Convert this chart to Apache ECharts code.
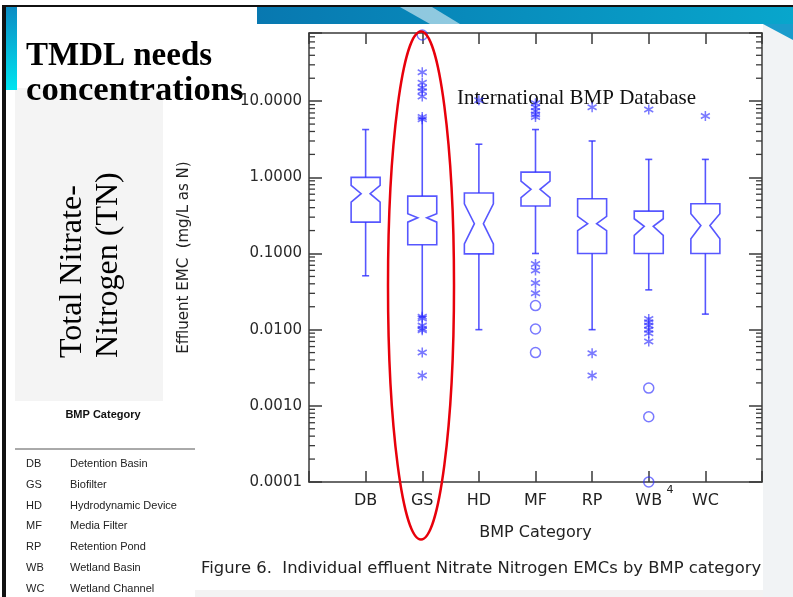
<!DOCTYPE html>
<html><head><meta charset="utf-8">
<script src="https://cdn.jsdelivr.net/npm/echarts@6/dist/echarts.min.js"></script>
<style>html,body{margin:0;padding:0;background:#fff}#c{width:793px;height:597px}</style>
</head><body><div id="c"></div>
<script>
// ---------- data (mg/L as N) ----------
const categories  = ['DB', 'GS', 'HD', 'MF', 'RP', 'WB', 'WC'];
const whiskerLow  = [0.051, 0.0148, 0.010, 0.100, 0.010, 0.0333, 0.016];
const q1          = [0.258, 0.130, 0.099, 0.420, 0.100, 0.100, 0.100];
const notchLow    = [0.473, 0.258, 0.134, 0.540, 0.200, 0.173, 0.156];
const median      = [0.610, 0.295, 0.246, 0.695, 0.246, 0.227, 0.233];
const notchHigh   = [0.785, 0.333, 0.450, 0.890, 0.307, 0.286, 0.333];
const q3          = [1.000, 0.567, 0.622, 1.170, 0.524, 0.360, 0.450];
const whiskerHigh = [4.24, 5.9, 2.72, 4.24, 3.0, 1.72, 1.72];
// outliers drawn as asterisks, per category
const starOutliers = [
  [],
  [24, 17.5, 15, 13.5, 11.5, 6.2, 5.8, 0.0148, 0.014, 0.0113, 0.0103, 0.0098, 0.0050, 0.0025],
  [10.3],
  [9.4, 8.3, 7.4, 6.7, 6.2, 0.073, 0.060, 0.041, 0.030],
  [8.3, 0.0049, 0.0025],
  [7.8, 0.0138, 0.0125, 0.0113, 0.0100, 0.0090, 0.0070],
  [6.4]
];
// outliers drawn as circles, per category
const circleOutliers = [
  [],
  [73.8],
  [],
  [0.0207, 0.0102, 0.0050],
  [],
  [0.00171, 0.00072, 0.0001],
  []
];
const yTickValues = [0.0001, 0.001, 0.01, 0.1, 1, 10];
const yTickLabels = ['0.0001', '0.0010', '0.0100', '0.1000', '1.0000', '10.0000'];
const yAxisMax = 78.5;
const legendCodes = ['DB', 'GS', 'HD', 'MF', 'RP', 'WB', 'WC'];
const legendNames = ['Detention Basin', 'Biofilter', 'Hydrodynamic Device', 'Media Filter',
                     'Retention Pond', 'Wetland Basin', 'Wetland Channel'];

// ---------- build ----------
const L = Math.log10;
const boxData = categories.map((c, i) => [i + 1, L(whiskerLow[i]), L(q1[i]), L(notchLow[i]),
  L(median[i]), L(notchHigh[i]), L(q3[i]), L(whiskerHigh[i])]);
const starData = [];
starOutliers.forEach((arr, i) => arr.forEach(v => starData.push([i + 1, L(v)])));
const circleData = [];
circleOutliers.forEach((arr, i) => arr.forEach(v => circleData.push([i + 1, L(v)])));
const minorTicks = [];
for (let d = -4; d <= 1; d++) for (let k = 2; k <= 9; k++) {
  const v = d + L(k);
  if (v < L(yAxisMax)) minorTicks.push([v]);
}

const BLUE = 'rgba(45,45,255,0.8)';
const AX = '#3a3a3a';
const SANS = '"DejaVu Sans", sans-serif';

function yFmt(v) {
  const i = yTickValues.findIndex(t => Math.abs(L(t) - v) < 1e-6);
  return i >= 0 ? yTickLabels[i] : '';
}
function xFmt(v) {
  return (Number.isInteger(v) && v >= 1 && v <= categories.length) ? categories[v - 1] : '';
}

const chart = echarts.init(document.getElementById('c'), null, { renderer: 'canvas' });

const commonX = {
  type: 'value', min: 0, max: 8, interval: 1,
  axisLine: { onZero: false, lineStyle: { color: AX, width: 1.5 } },
  axisTick: { inside: true, length: 11, lineStyle: { color: AX, width: 1.5 } },
  splitLine: { show: false }
};
const commonY = {
  type: 'value', min: -4, max: L(yAxisMax), interval: 1,
  axisLine: { show: true, onZero: false, lineStyle: { color: AX, width: 1.5 } },
  axisTick: { show: true, inside: true, length: 13, lineStyle: { color: AX, width: 1.5 } },
  splitLine: { show: false }
};

const graphic = [
  // slide decorations
  { type: 'rect', z: -5, shape: { x: 15, y: 88, width: 148, height: 313 }, style: { fill: '#f4f4f4' } },
  { type: 'rect', z: -5, shape: { x: 763, y: 24, width: 30, height: 573 }, style: { fill: '#f1f3f5' } },
  { type: 'rect', z: -5, shape: { x: 195, y: 590, width: 568, height: 7 }, style: { fill: '#f3f3f3' } },
  { type: 'rect', z: -4, shape: { x: 257, y: 7, width: 536, height: 17 },
    style: { fill: new echarts.graphic.LinearGradient(0, 0, 1, 0, [
      { offset: 0, color: '#0878b0' }, { offset: 1, color: '#08a6cc' }]) } },
  { type: 'polygon', z: -3, shape: { points: [[400, 7], [432, 7], [460, 24], [430, 24]] },
    style: { fill: 'rgba(255,255,255,0.55)' } },
  { type: 'polygon', z: -3, shape: { points: [[763, 24], [793, 24], [793, 40]] },
    style: { fill: '#1a9ccc' } },
  { type: 'rect', z: -4, shape: { x: 6, y: 7, width: 11, height: 83 },
    style: { fill: new echarts.graphic.LinearGradient(0, 0, 0, 1, [
      { offset: 0, color: '#0c8cc4' }, { offset: 1, color: '#00e4f0' }]) } },
  { type: 'rect', z: -2, shape: { x: 2, y: 5, width: 4, height: 592 }, style: { fill: '#111' } },
  { type: 'rect', z: -2, shape: { x: 2, y: 5, width: 791, height: 2 }, style: { fill: '#111' } },
  // title
  { type: 'text', x: 26, y: 40, style: { text: 'TMDL needs', font: 'bold 33px "Liberation Serif"', fill: '#000', textVerticalAlign: 'alphabetic' } },
  { type: 'text', x: 26, y: 75, scaleX: 1.05, style: { text: 'concentrations', font: 'bold 33px "Liberation Serif"', fill: '#000', textVerticalAlign: 'alphabetic' } },
  // rotated side label
  { type: 'text', x: 57, y: 358, rotation: Math.PI / 2, style: { text: 'Total Nitrate-', font: '32px "Liberation Serif"', fill: '#000', textAlign: 'left', textVerticalAlign: 'alphabetic' } },
  { type: 'text', x: 93, y: 358, rotation: Math.PI / 2, style: { text: 'Nitrogen (TN)', font: '32px "Liberation Serif"', fill: '#000', textAlign: 'left', textVerticalAlign: 'alphabetic' } },
  // database label
  { type: 'text', x: 457, y: 88, style: { text: 'International BMP Database', font: '21px "Liberation Serif"', fill: '#111', textVerticalAlign: 'alphabetic' } },
  // left table
  { type: 'text', x: 103, y: 415, style: { text: 'BMP Category', font: 'bold 11px "Liberation Sans"', fill: '#111', textAlign: 'center', textVerticalAlign: 'middle' } },
  { type: 'line', shape: { x1: 15, y1: 449, x2: 195, y2: 449 }, style: { stroke: '#555', lineWidth: 1 } },
  // superscript and caption
  { type: 'text', x: 670, y: 490, style: { text: '4', font: '11px ' + SANS, fill: '#222', textAlign: 'center', textVerticalAlign: 'middle' } },
  { type: 'text', x: 201, y: 569, style: { text: 'Figure 6.  Individual effluent Nitrate Nitrogen EMCs by BMP category', font: '16.4px ' + SANS, fill: '#222', textVerticalAlign: 'middle' } },
  // red annotation ellipse
  { type: 'ellipse', z: 100, shape: { cx: 421, cy: 285.5, rx: 33, ry: 254 }, style: { fill: 'none', stroke: '#e8000b', lineWidth: 2.5 } }
];
const rowY = [464, 485, 506, 526, 547, 568, 589];
legendCodes.forEach((c, i) => {
  graphic.push({ type: 'text', x: 26, y: rowY[i], style: { text: c, font: '11px "Liberation Sans"', fill: '#222', textVerticalAlign: 'middle' } });
  graphic.push({ type: 'text', x: 70, y: rowY[i], style: { text: legendNames[i], font: '11px "Liberation Sans"', fill: '#222', textVerticalAlign: 'middle' } });
});

const option = {
  backgroundColor: '#fff',
  animation: false,
  grid: { left: 309, top: 33, width: 453, height: 449 },
  xAxis: [
    Object.assign({}, commonX, { position: 'bottom',
      axisLabel: { formatter: xFmt, margin: 11, fontSize: 16, fontFamily: SANS, color: '#222' },
      name: 'BMP Category', nameLocation: 'middle', nameGap: 43,
      nameTextStyle: { fontSize: 16, fontFamily: SANS, color: '#222' } }),
    Object.assign({}, commonX, { position: 'top', axisLabel: { show: false } })
  ],
  yAxis: [
    Object.assign({}, commonY, { position: 'left',
      axisLabel: { formatter: yFmt, margin: 7, fontSize: 15, fontFamily: SANS, color: '#2a2a2a' },
      name: 'Effluent EMC  (mg/L as N)', nameLocation: 'middle', nameGap: 117,
      nameTextStyle: { fontSize: 15, fontFamily: SANS, color: '#222' } }),
    Object.assign({}, commonY, { position: 'right', axisLabel: { show: false } })
  ],
  graphic: graphic,
  series: [
    {
      type: 'custom', name: 'minor ticks', data: minorTicks, silent: true, z: 3,
      renderItem: function (params, api) {
        const v = api.value(0);
        const a = api.coord([0, v]);
        const b = api.coord([8, v]);
        const st = { stroke: AX, lineWidth: 1.3 };
        return { type: 'group', children: [
          { type: 'line', shape: { x1: a[0], y1: a[1], x2: a[0] + 6, y2: a[1] }, style: st },
          { type: 'line', shape: { x1: b[0], y1: b[1], x2: b[0] - 6, y2: b[1] }, style: st }
        ] };
      }
    },
    {
      type: 'custom', name: 'boxes', data: boxData, z: 4,
      renderItem: function (params, api) {
        const x = api.value(0);
        const P = k => api.coord([x, api.value(k)]);
        const wl = P(1), b1 = P(2), nl = P(3), md = P(4), nh = P(5), b3 = P(6), wh = P(7);
        const cx = wl[0], hw = 14.5, nw = 4.5, cap = 3.5;
        const st = { stroke: BLUE, fill: 'none', lineWidth: 1.6 };
        return { type: 'group', children: [
          { type: 'polygon', shape: { points: [
            [cx - hw, b1[1]], [cx + hw, b1[1]], [cx + hw, nl[1]], [cx + nw, md[1]], [cx + hw, nh[1]],
            [cx + hw, b3[1]], [cx - hw, b3[1]], [cx - hw, nh[1]], [cx - nw, md[1]], [cx - hw, nl[1]]] }, style: st },
          { type: 'line', shape: { x1: cx, y1: b3[1], x2: cx, y2: wh[1] }, style: st },
          { type: 'line', shape: { x1: cx, y1: b1[1], x2: cx, y2: wl[1] }, style: st },
          { type: 'line', shape: { x1: cx - cap, y1: wh[1], x2: cx + cap, y2: wh[1] }, style: st },
          { type: 'line', shape: { x1: cx - cap, y1: wl[1], x2: cx + cap, y2: wl[1] }, style: st }
        ] };
      }
    },
    {
      type: 'scatter', name: 'outliers *', data: starData, z: 5, clip: false,
      symbol: 'path://M5,0L5,10M0.67,2.5L9.33,7.5M0.67,7.5L9.33,2.5', symbolSize: [9, 10],
      itemStyle: { color: 'none', borderColor: BLUE, borderWidth: 1.6 }
    },
    {
      type: 'scatter', name: 'outliers o', data: circleData, z: 5, clip: false,
      symbol: 'circle', symbolSize: 10,
      itemStyle: { color: 'none', borderColor: BLUE, borderWidth: 1.5 }
    }
  ]
};
chart.setOption(option);
</script></body></html>
